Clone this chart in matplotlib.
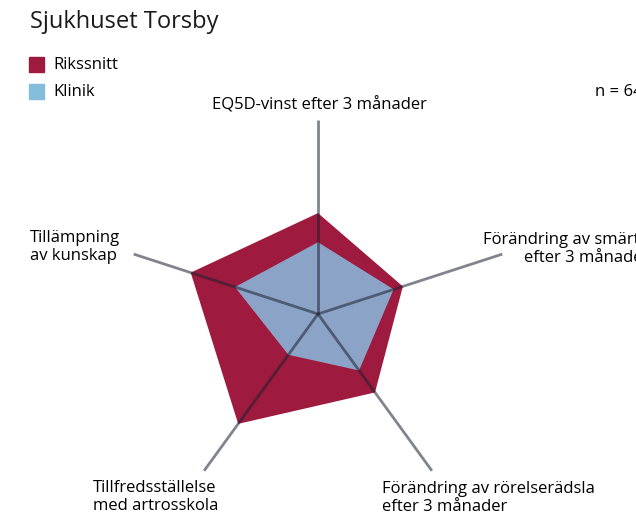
import numpy as np
import matplotlib
matplotlib.use("Agg")
import matplotlib.pyplot as plt
from matplotlib.patches import Rectangle

plt.rcParams['font.family'] = ['Open Sans', 'DejaVu Sans']

# axes order: clockwise from top
categories = ["EQ5D-vinst efter 3 månader",
              "Förändring av smärta\nefter 3 månader",
              "Förändring av rörelserädsla\nefter 3 månader",
              "Tillfredsställelse\nmed artrosskola",
              "Tillämpning\nav kunskap"]
rikssnitt = [0.52, 0.46, 0.50, 0.70, 0.69]
klinik = [0.37, 0.41, 0.36, 0.26, 0.45]
series_names = ["Rikssnitt", "Klinik"]
n_text = "n = 64"

red = "#9e1a3e"
blue_leg = "#84bcdc"
blue_fill = "#8ba3c6"

fig = plt.figure(figsize=(6.36, 5.15), dpi=100)
ax = fig.add_axes([0.195, 0.0136, 0.610, 0.7534], projection="polar")
ax.set_theta_offset(np.pi / 2)
ax.set_theta_direction(-1)
ax.set_ylim(0, 1)
ax.axis("off")

angles = np.linspace(0, 2 * np.pi, len(categories), endpoint=False)
ang_closed = np.append(angles, angles[0])

ax.fill(ang_closed, rikssnitt + rikssnitt[:1], color=red, zorder=2, lw=0)
ax.fill(ang_closed, klinik + klinik[:1], color=blue_fill, zorder=3, lw=0)
for a in angles:
    ax.plot([a, a], [0, 1], color="#1a2030", alpha=0.55, lw=2, zorder=4,
            solid_capstyle="butt")

# title & legend
fig.text(30 / 636, 1 - 22 / 515, "Sjukhuset Torsby", fontsize=17,
         va="center", ha="left", color="#1a1a1a")
for i, (name, col) in enumerate(zip(series_names, [red, blue_leg])):
    yc = 65 + 26.5 * i
    fig.patches.append(Rectangle((29 / 636, 1 - (yc + 7.5) / 515), 15 / 636, 15 / 515,
                                 transform=fig.transFigure, color=col))
    fig.text(53 / 636, 1 - yc / 515, name, fontsize=12, va="center", ha="left")
# the reference crops the right edge, so these texts run off the canvas as there
fig.text(595 / 636, 1 - 92 / 515, n_text, fontsize=12, va="center", ha="left")

# axis labels
label_pos = [(319, 105, "center", "center"),
             (483, 249, "left", "right"),
             (382, 498, "left", "left"),
             (93, 497, "left", "left"),
             (30, 247, "left", "left")]
for lab, (x, y, ha, ma) in zip(categories, label_pos):
    fig.text(x / 636, 1 - y / 515, lab, fontsize=12, ha=ha, va="center",
             multialignment=ma, linespacing=1.1)

fig.savefig("out.png", dpi=100)
